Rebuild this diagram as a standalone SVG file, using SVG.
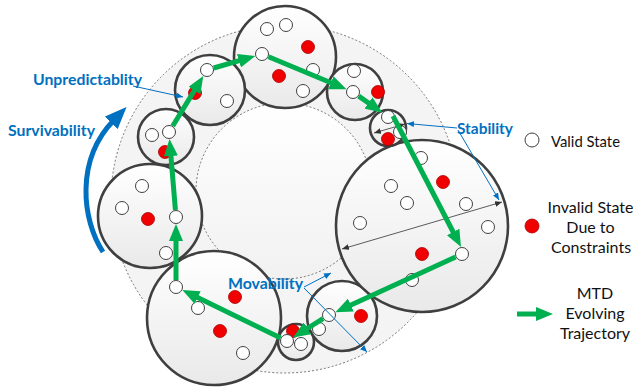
<svg xmlns="http://www.w3.org/2000/svg" width="633" height="387" viewBox="0 0 633 387">
<style>
.big{stroke:#3f3f3f;stroke-width:2.6;fill:url(#cg)}
.v{fill:#fff;stroke:#404040;stroke-width:1}
.r{fill:#f00000;stroke:#a00;stroke-width:0.8}
.traj{stroke:#00b050;stroke-width:5;fill:none;marker-end:url(#g)}
.ann{stroke:#0070c0;stroke-width:1;fill:none;marker-end:url(#bs)}
.dim{stroke:#333;stroke-width:0.8;fill:none;marker-start:url(#k);marker-end:url(#k)}
.lbl{font-family:Lato,"Liberation Sans",sans-serif;font-weight:bold;font-size:14.5px;fill:#0070c0}
.leg{font-family:Lato,"Liberation Sans",sans-serif;font-size:16px;fill:#111;text-anchor:middle}
</style>
<defs>
<linearGradient id="cg" x1="0" y1="0" x2="0" y2="1"><stop offset="0" stop-color="#ffffff"/><stop offset="1" stop-color="#e9e9e9"/></linearGradient>
<linearGradient id="ig" x1="0" y1="0" x2="0" y2="1"><stop offset="0" stop-color="#ffffff"/><stop offset="1" stop-color="#f1f1f1"/></linearGradient>
<marker id="g" viewBox="0 0 17 14" refX="4" refY="7" markerWidth="17" markerHeight="14" markerUnits="userSpaceOnUse" orient="auto"><path d="M0,0L17,7L0,14z" fill="#00b050"/></marker>
<marker id="bb" viewBox="0 0 22 18" refX="4" refY="9" markerWidth="22" markerHeight="18" markerUnits="userSpaceOnUse" orient="auto"><path d="M0,0L22,9L0,18z" fill="#0070c0"/></marker>
<marker id="bs" viewBox="0 0 7 6" refX="7" refY="3" markerWidth="7" markerHeight="6" markerUnits="userSpaceOnUse" orient="auto"><path d="M0,0L7,3L0,6z" fill="#0070c0"/></marker>
<marker id="k" viewBox="0 0 7 6" refX="7" refY="3" markerWidth="7" markerHeight="6" markerUnits="userSpaceOnUse" orient="auto-start-reverse"><path d="M0,0L7,3L0,6z" fill="#333"/></marker>
</defs>

<g id="state-space">
<circle cx="285" cy="199" r="174" fill="#f4f4f4" stroke="#555" stroke-width="0.8" stroke-dasharray="2,2"/>
</g>
<g id="core">
<circle cx="284" cy="191" r="88" fill="url(#ig)" stroke="#555" stroke-width="0.8" stroke-dasharray="2,2"/>
</g>

<g id="c1">
<circle class="big" cx="285" cy="57" r="51"/>
<circle class="v" cx="267" cy="29" r="6.5"/><circle class="v" cx="286" cy="25" r="6.5"/>
<circle class="r" cx="308" cy="47" r="6.5"/><circle class="r" cx="279" cy="76" r="6.5"/>
<circle class="v" cx="262" cy="54" r="6.5"/><circle class="v" cx="313" cy="70" r="6.5"/><circle class="v" cx="303" cy="91" r="6.5"/>
</g>
<g id="c2">
<circle class="big" cx="210" cy="90" r="35"/>
<circle class="r" cx="195" cy="93" r="6.5"/>
<circle class="v" cx="207" cy="70" r="6.5"/><circle class="v" cx="227" cy="101" r="6.5"/>
</g>
<g id="c3">
<circle class="big" cx="166" cy="137" r="28"/>
<circle class="r" cx="165" cy="152" r="6.5"/>
<circle class="v" cx="152" cy="135" r="6.5"/><circle class="v" cx="169" cy="132" r="6.5"/>
</g>
<g id="c4">
<circle class="big" cx="150" cy="216" r="52"/>
<circle class="v" cx="142" cy="186" r="6.5"/><circle class="v" cx="122" cy="208" r="6.5"/>
<circle class="r" cx="148" cy="219" r="6.5"/>
<circle class="v" cx="176" cy="217" r="6.5"/><circle class="v" cx="166" cy="253" r="6.5"/>
</g>
<g id="c5">
<circle class="big" cx="214" cy="318" r="67"/>
<circle class="v" cx="176" cy="287" r="6.5"/>
<circle class="r" cx="235" cy="297" r="6.5"/><circle class="v" cx="198" cy="308" r="6.5"/>
<circle class="r" cx="220" cy="331" r="6.5"/><circle class="v" cx="243" cy="353" r="6.5"/>
</g>
<g id="c6">
<circle class="big" cx="296" cy="342" r="18"/>
<circle class="r" cx="293" cy="331" r="6.5"/>
<circle class="v" cx="287" cy="341" r="6.5"/><circle class="v" cx="301" cy="344" r="6.5"/>
</g>
<g id="c7">
<circle class="big" cx="342" cy="316" r="35"/>
<circle class="v" cx="329" cy="315" r="6.5"/><circle class="r" cx="361" cy="316" r="6.5"/><circle class="v" cx="319" cy="329" r="6.5"/>
</g>
<g id="c8">
<circle class="big" cx="422" cy="226" r="86"/>
<circle class="v" cx="421" cy="158" r="6.5"/><circle class="r" cx="443" cy="182" r="6.5"/>
<circle class="v" cx="391" cy="186" r="6.5"/><circle class="v" cx="407" cy="203" r="6.5"/>
<circle class="v" cx="466" cy="204" r="6.5"/><circle class="v" cx="360" cy="223" r="6.5"/>
<circle class="v" cx="488" cy="227" r="6.5"/><circle class="r" cx="422" cy="254" r="6.5"/>
<circle class="v" cx="462" cy="254" r="6.5"/><circle class="v" cx="412" cy="280" r="6.5"/>
<path class="dim" d="M342,249L502,202"/>
</g>
<g id="c9">
<circle class="big" cx="355" cy="92" r="28"/>
<circle class="v" cx="354" cy="71" r="6.5"/><circle class="v" cx="353" cy="92" r="6.5"/><circle class="r" cx="378" cy="92" r="6.5"/>
</g>
<g id="c10">
<circle class="big" cx="388" cy="128" r="18"/>
<circle class="v" cx="388" cy="117" r="6.5"/><circle class="v" cx="400" cy="132" r="6.5"/><circle class="r" cx="388" cy="139" r="6.5"/>
<path class="dim" d="M374,133L405,124"/>
</g>

<g id="connectors">
<path class="traj" d="M280.7,337.9L194,295.8"/>
<path class="traj" d="M176,280L176,237"/>
<path class="traj" d="M175.4,210L170.6,152"/>
<path class="traj" d="M172.7,126L196.5,87.1"/>
<path class="traj" d="M213.7,68L242.8,59.6"/>
<path class="traj" d="M268.5,56.7L334.5,84.3"/>
<path class="traj" d="M358.7,96.1L371.7,105.3"/>
<path class="traj" d="M393,116L455,235.5"/>
<path class="traj" d="M455.6,256.9L347.2,306.7"/>
<path class="traj" d="M323,318.7L304.1,330.5"/>
<path d="M103,252C82,220 75,160 114,120" stroke="#0070c0" stroke-width="5" fill="none" marker-end="url(#bb)"/>
<path class="ann" d="M133,86L183,97"/>
<path class="ann" d="M457,128L407,123.5"/>
<path class="ann" d="M458,130L499,200"/>
<path class="ann" d="M304,287L331,273"/>
<path class="ann" d="M304,288L367,352"/>
</g>

<g id="labels">
<text class="lbl" x="33" y="85" textLength="109" lengthAdjust="spacingAndGlyphs">Unpredictablity</text>
<text class="lbl" x="8" y="136" textLength="87" lengthAdjust="spacingAndGlyphs">Survivability</text>
<text class="lbl" x="457" y="134" textLength="56" lengthAdjust="spacingAndGlyphs">Stability</text>
<text class="lbl" x="228" y="289" textLength="75" lengthAdjust="spacingAndGlyphs">Movability</text>
</g>

<g id="legend">
<circle class="v" cx="532" cy="140" r="7"/>
<text class="leg" x="551" y="147" style="text-anchor:start" textLength="69" lengthAdjust="spacingAndGlyphs">Valid State</text>
<circle class="r" cx="532" cy="226" r="7"/>
<text class="leg" x="590.5" y="213">Invalid State</text>
<text class="leg" x="590.5" y="233">Due to</text>
<text class="leg" x="591" y="253">Constraints</text>
<path d="M517,314L540,314" stroke="#00b050" stroke-width="5" fill="none" marker-end="url(#g)"/>
<text class="leg" x="595" y="299">MTD</text>
<text class="leg" x="595" y="319">Evolving</text>
<text class="leg" x="595" y="339">Trajectory</text>
</g>
</svg>
